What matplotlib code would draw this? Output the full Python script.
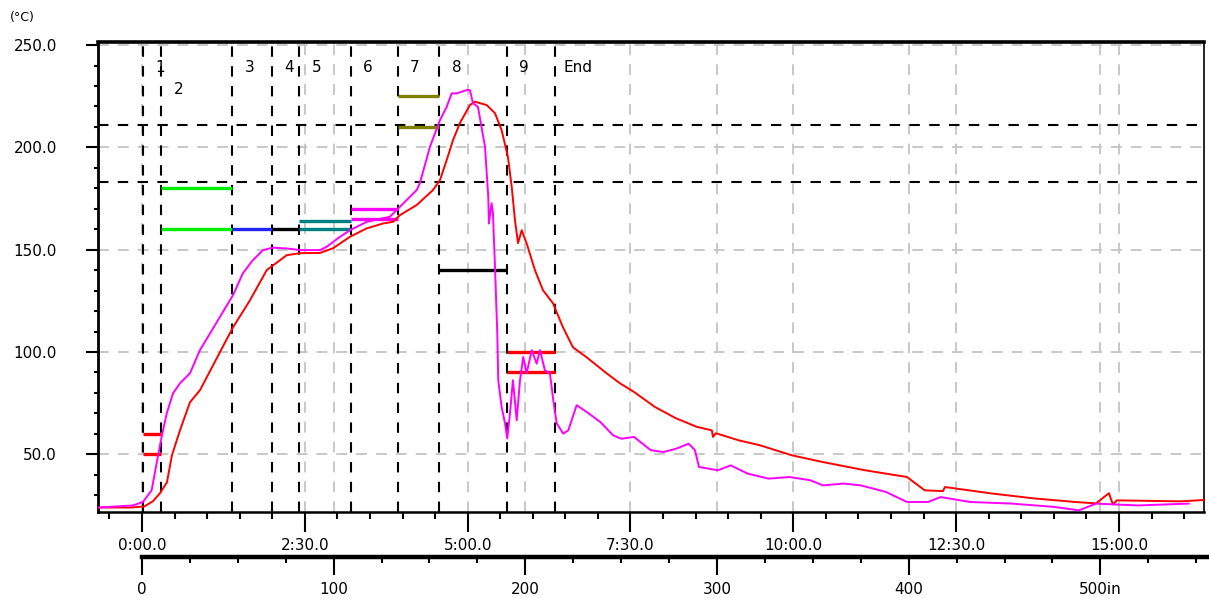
import matplotlib
matplotlib.use('Agg')
import matplotlib.pyplot as plt
from matplotlib.ticker import MultipleLocator, FixedLocator, FuncFormatter

# lower scale: seconds of travel per inch
SEC_PER_IN = 1.7657

# zone boundaries (s) and names
zone_edges = [1, 17.5, 83.2, 119.5, 144.6, 192.2, 235.5, 273.9, 335.8, 380.4]
zone_names = ['1', '2', '3', '4', '5', '6', '7', '8', '9', 'End']
# set-point limits per zone (degC) and their colours
zone_limits = [[60, 50], [180, 160], [160], [160], [164, 160], [170, 165],
               [225, 210], [140], [100, 90]]
zone_colors = ['#ff0000', '#00ee00', '#2424f0', '#000000', '#008080', '#ff00ff',
               '#808000', '#000000', '#ff0000']
limit_lines = [211, 183]

# probe curves, time (s) / temperature (degC)
red_t = [-40, -10, 2, 10, 16.6, 23, 27.6, 35, 44.2, 53.4,
         83.8, 99.5, 114.9, 133.3, 145.5, 164, 176, 191.6, 207, 222,
         231.2, 237.7, 253, 268, 274.5, 280.7, 286.5, 292.9, 302.1, 306.7,
         317.5, 325.2, 331.3, 337.1, 340.6, 343.6, 346.4, 349.8, 354.4, 362,
         369.4, 378.6, 387.8, 397, 409.6, 428, 440.3, 453.2, 472.6, 491.9,
         511.2, 525, 526, 528.7, 549.9, 569.3, 598.7, 627.3, 666, 704.7,
         712, 721, 737.8, 739.7, 782, 820.7, 859.4, 878.8, 890.7, 894.4,
         898, 956, 983]
red_T = [24, 24, 24.5, 27, 31, 36.3, 49.5, 61.7, 75.4, 81.3,
         112, 125.3, 140, 147.3, 148.3, 148.4, 150.7, 156.3, 160.4, 162.8,
         163.6, 166.9, 171.8, 179.1, 184, 193.8, 203.5, 211.9, 220.7, 222.3,
         220.7, 216.7, 208.4, 195.4, 180.7, 164.4, 153.2, 159.5, 153, 140,
         130.2, 123.8, 112.1, 102.3, 97.4, 89.6, 84.7, 80.5, 73.1, 67.6,
         63.4, 61.7, 58.5, 60.3, 56.8, 54.4, 49.5, 46.2, 42.2, 38.9,
         36, 32.4, 32, 34, 30.9, 28.5, 26.7, 26, 31, 25.5,
         27.5, 27, 27.8]

mag_t = [-40, -8.3, 0.9, 8.9, 13.5, 18.1, 22.8, 28.6, 35, 44.2,
         53.4, 83.8, 93, 102.2, 111.5, 120.7, 133.3, 145.5, 164, 170.1,
         182.4, 191.6, 207, 228.4, 237.7, 253, 256, 265.3, 274.5, 280.7,
         285.3, 289.9, 294.5, 299.1, 302.1, 304.9, 309.5, 316, 319, 319.6,
         322.1, 323.3, 325.2, 327.3, 328.2, 331.3, 334.4, 336.5, 339, 341.7,
         345.2, 348.2, 351.2, 354.4, 359, 363.6, 366.6, 371.2, 375.8, 378.9,
         382, 388, 392.7, 400.4, 409.6, 422.2, 433.9, 441.6, 453.2, 468.7,
         480.3, 491.9, 503.6, 509.4, 513.1, 530.6, 542.3, 557.8, 577.1, 596.4,
         615.8, 627.3, 646.6, 662.3, 685.3, 704.7, 724, 735.8, 762.7, 801.4,
         840.1, 863.1, 878.8, 917.5, 964.2]
mag_T = [24, 25, 26.7, 32.4, 45.6, 58.5, 70, 79.8, 84.7, 89.6,
         100.9, 127.7, 138.5, 144.9, 149.8, 151, 150.6, 149.8, 149.8, 151.4,
         156.3, 159.5, 163.6, 166.1, 171, 179.1, 182.5, 200.3, 213.3, 219.8,
         226.4, 226.4, 227.2, 228, 228, 221.6, 219.8, 200.3, 175.8, 162.8,
         172.7, 167.8, 141.6, 109.2, 86.2, 73.1, 65.2, 57.7, 70, 86.2,
         66.6, 86, 97.6, 89.6, 100.9, 94.3, 100.9, 91, 89.6, 76.4,
         65.2, 60.1, 61.7, 74, 70.7, 65.8, 59.3, 57.6, 58.5, 52,
         51.1, 52.7, 55.2, 52, 43.8, 42.2, 44.6, 40.6, 38.1, 38.9,
         37.3, 34.8, 35.7, 34.8, 31.6, 26.7, 26.7, 29.1, 26.7, 25.9,
         24.3, 22.6, 25.9, 25, 25.9]

W, H = 1209, 598
t_lo, t_hi = -40.5, 978.3
fig = plt.figure(figsize=(W / 100, H / 100), dpi=100)
ax = fig.add_axes([98 / W, 1 - 512 / H, (1204 - 98) / W, (512 - 42) / H])
ax.set_xlim(t_lo, t_hi)
ax.set_ylim(21.8, 251.5)

# grey grid: time majors, inch majors and temperature majors
grid_kw = dict(color='#c4c4c4', lw=1.3, dashes=(6, 5), zorder=1)
for t in range(0, 1000, 150):
    ax.axvline(t, **grid_kw)
for d in range(100, 600, 100):
    ax.axvline(d * SEC_PER_IN, **grid_kw)
for v in range(50, 251, 50):
    ax.axhline(v, **grid_kw)

# zone boundaries and limit lines
dash_kw = dict(color='black', lw=1.5, dashes=(5, 4.5), zorder=2)
for e in zone_edges:
    ax.axvline(e, **dash_kw)
for v in limit_lines:
    ax.axhline(v, **dash_kw)

# zone set-points
for i, (lims, c) in enumerate(zip(zone_limits, zone_colors)):
    ax.hlines(lims, zone_edges[i], zone_edges[i + 1], colors=c, lw=2.4, zorder=3)

# zone labels
for e, name in zip(zone_edges, zone_names):
    yrow = 228.5 if name == '2' else 238.8
    dx = 6 if name == 'End' else 9
    ax.annotate(name, xy=(e, yrow), xytext=(dx, 0), textcoords='offset points',
                ha='left', va='center', fontsize=11, zorder=4)

ax.plot(red_t, red_T, color='#ff0000', lw=1.4, zorder=5)
ax.plot(mag_t, mag_T, color='#ff00ff', lw=1.4, zorder=5)

# frame
ax.spines['left'].set_linewidth(2.0)
ax.spines['bottom'].set_linewidth(1.8)
ax.spines['top'].set_linewidth(2.6)
ax.spines['right'].set_linewidth(1.2)

def fmt_time(t, pos):
    t = int(round(t))
    return '%d:%02d.0' % (t // 60, t % 60)

ax.xaxis.set_major_locator(MultipleLocator(150))
ax.xaxis.set_minor_locator(MultipleLocator(30))
ax.xaxis.set_major_formatter(FuncFormatter(fmt_time))
ax.tick_params(axis='x', which='major', length=14.4, width=1.5, pad=4, labelsize=11)
ax.tick_params(axis='x', which='minor', length=4.8, width=1.5)

ax.yaxis.set_major_locator(MultipleLocator(50))
ax.yaxis.set_minor_locator(MultipleLocator(10))
ax.yaxis.set_major_formatter(FuncFormatter(lambda v, p: '%.1f' % v))
ax.tick_params(axis='y', which='major', length=8.6, width=1.5, pad=21, labelsize=11)
ax.tick_params(axis='y', which='minor', length=3, width=1.5)

fig.text(10 / W, 1 - 18 / H, '(°C)', fontsize=9, va='center', ha='left')

# lower distance scale (inches)
t_fig_right = t_lo + (W - 98) * (t_hi - t_lo) / (1204 - 98)
ax2 = fig.add_axes([98 / W, 1 - 557 / H, (W - 98) / W, 0.0001])
ax2.set_xlim(t_lo / SEC_PER_IN, t_fig_right / SEC_PER_IN)
ax2.patch.set_visible(False)
for s in ['left', 'right', 'top']:
    ax2.spines[s].set_visible(False)
ax2.spines['bottom'].set_linewidth(3.2)
ax2.spines['bottom'].set_bounds(0, t_fig_right / SEC_PER_IN)
ax2.set_yticks([])
ax2.xaxis.set_major_locator(FixedLocator(list(range(0, 501, 100))))
ax2.xaxis.set_minor_locator(FixedLocator(list(range(0, 560, 25))))
ax2.xaxis.set_major_formatter(FuncFormatter(lambda d, p: '500in' if round(d) == 500 else '%d' % d))
ax2.tick_params(axis='x', which='major', length=13, width=1.5, pad=5, labelsize=11)
ax2.tick_params(axis='x', which='minor', length=4, width=1.5)

fig.savefig('out.png', dpi=100)
